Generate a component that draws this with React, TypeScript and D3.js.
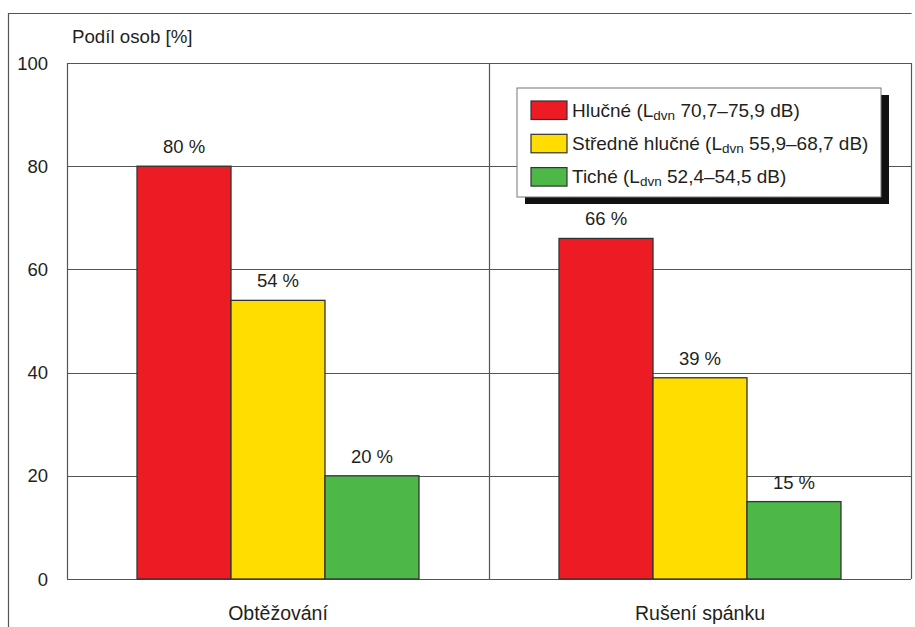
import React, { useEffect, useRef } from 'react';
import * as d3 from 'd3';

const categories = ['Obtěžování', 'Rušení spánku'];
const seriesNames = ['Hlučné', 'Středně hlučné', 'Tiché'];
const seriesRanges = ['70,7–75,9 dB)', '55,9–68,7 dB)', '52,4–54,5 dB)'];
const seriesColors = ['#ED1C24', '#FFDD00', '#4DB848'];
const values = [
  [80, 54, 20],
  [66, 39, 15],
];
const yTicks = [0, 20, 40, 60, 80, 100];

const W = 915;
const H = 627;
const FONT = 'Liberation Sans, Arial, sans-serif';

export default function App() {
  const ref = useRef<SVGSVGElement>(null);

  useEffect(() => {
    if (!ref.current) return;
    const svg = d3.select(ref.current);
    svg.selectAll('*').remove();

    const left = 67, right = 911, top = 63, bottom = 579;

    const x = d3.scaleBand<string>().domain(categories).range([left, right]);
    const xs = d3.scaleBand<string>()
      .domain(seriesNames)
      .range([0, x.bandwidth()])
      .paddingOuter(0.745)
      .paddingInner(0);
    const y = d3.scaleLinear().domain([0, 100]).range([bottom, top]);

    // outer frame
    svg.append('path')
      .attr('d', `M8.5,${H + 5}V13.5H${right + 0.5}`)
      .attr('fill', 'none')
      .attr('stroke', '#555')
      .attr('stroke-width', 1.2);

    // gridlines
    svg.append('g').selectAll('line')
      .data(yTicks)
      .join('line')
      .attr('x1', left).attr('x2', right)
      .attr('y1', (d) => Math.round(y(d)) + 0.5)
      .attr('y2', (d) => Math.round(y(d)) + 0.5)
      .attr('stroke', '#555')
      .attr('stroke-width', 1.2);

    // verticals: left, middle, right
    const vx = [left, (x(categories[1]) ?? 0), right];
    svg.append('g').selectAll('line')
      .data(vx)
      .join('line')
      .attr('x1', (d) => Math.round(d) + 0.5).attr('x2', (d) => Math.round(d) + 0.5)
      .attr('y1', top).attr('y2', bottom)
      .attr('stroke', '#555')
      .attr('stroke-width', 1.2);

    // y tick labels
    svg.append('g').selectAll('text')
      .data(yTicks)
      .join('text')
      .attr('x', 48)
      .attr('y', (d) => y(d) + 6.5)
      .attr('text-anchor', 'end')
      .attr('font-family', FONT)
      .attr('font-size', 18.5)
      .attr('fill', '#231f20')
      .text((d) => d);

    svg.append('text')
      .attr('x', 72).attr('y', 43)
      .attr('font-family', FONT)
      .attr('font-size', 18.7)
      .attr('fill', '#231f20')
      .text('Podíl osob [%]');

    // bars
    categories.forEach((cat, ci) => {
      const g = svg.append('g').attr('transform', `translate(${x(cat)},0)`);
      const data = seriesNames.map((s, si) => ({ s, v: values[ci][si], c: seriesColors[si] }));
      g.selectAll('rect')
        .data(data)
        .join('rect')
        .attr('x', (d) => xs(d.s) ?? 0)
        .attr('y', (d) => y(d.v))
        .attr('width', xs.bandwidth())
        .attr('height', (d) => y(0) - y(d.v))
        .attr('fill', (d) => d.c)
        .attr('stroke', '#333')
        .attr('stroke-width', 1.3);
      g.selectAll('text.val')
        .data(data)
        .join('text')
        .attr('class', 'val')
        .attr('x', (d) => (xs(d.s) ?? 0) + xs.bandwidth() / 2)
        .attr('y', (d) => y(d.v) - 13)
        .attr('text-anchor', 'middle')
        .attr('font-family', FONT)
        .attr('font-size', 18.5)
        .attr('fill', '#231f20')
        .text((d) => `${d.v} %`);
      svg.append('text')
        .attr('x', (x(cat) ?? 0) + x.bandwidth() / 2)
        .attr('y', 620)
        .attr('text-anchor', 'middle')
        .attr('font-family', FONT)
        .attr('font-size', 19.5)
        .attr('fill', '#231f20')
        .text(cat);
    });

    // legend
    const lx = 517, ly = 88, lw = 364, lh = 109;
    svg.append('rect')
      .attr('x', lx + 8).attr('y', ly + 7)
      .attr('width', lw).attr('height', lh)
      .attr('fill', '#111');
    svg.append('rect')
      .attr('x', lx).attr('y', ly)
      .attr('width', lw).attr('height', lh)
      .attr('fill', '#fff')
      .attr('stroke', '#777')
      .attr('stroke-width', 1);
    seriesNames.forEach((s, i) => {
      const cy = 110 + i * 33.3;
      svg.append('rect')
        .attr('x', 531).attr('y', cy - 9)
        .attr('width', 36).attr('height', 18.5)
        .attr('fill', seriesColors[i])
        .attr('stroke', '#333')
        .attr('stroke-width', 1.2);
      const t = svg.append('text')
        .attr('x', 572).attr('y', cy + 6.5)
        .attr('font-family', FONT)
        .attr('font-size', 19)
        .attr('fill', '#231f20');
      t.append('tspan').text(`${s} (L`);
      t.append('tspan').attr('font-size', 13.5).attr('dy', 3).text('dvn');
      t.append('tspan').attr('dy', -3).text(` ${seriesRanges[i]}`);
    });
  }, []);

  return <svg ref={ref} width={W} height={H} style={{ display: 'block', position: 'absolute', left: 0, top: 0, background: '#fff' }} />;
}
